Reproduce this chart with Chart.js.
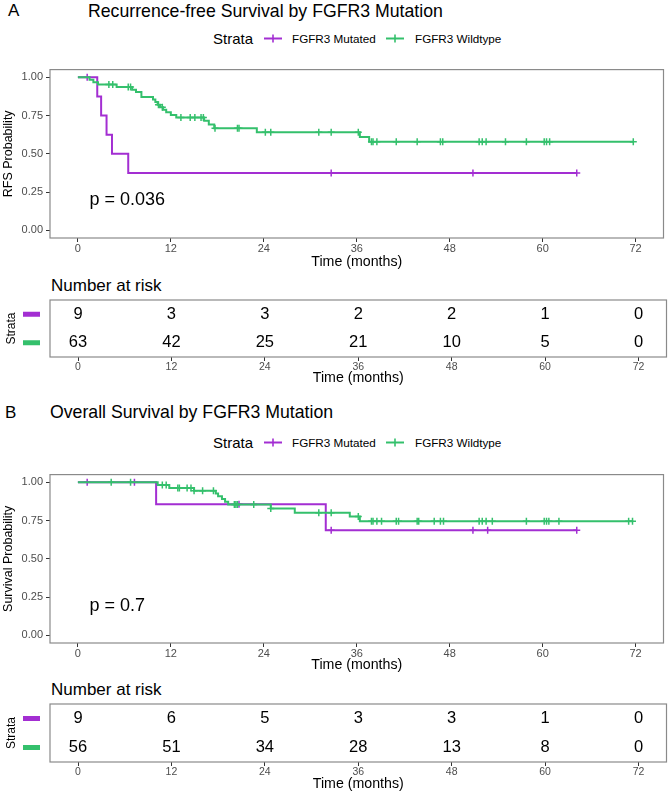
<!DOCTYPE html>
<html>
<head>
<meta charset="utf-8">
<script src="https://cdn.jsdelivr.net/npm/chart.js@4.4.1/dist/chart.umd.min.js"></script>
<style>
  body { margin: 0; background: #fff; width: 669px; height: 793px; position: relative; overflow: hidden;
         font-family: "Liberation Sans", Arial, sans-serif; }
  canvas { position: absolute; left: 0; }
  .t { position: absolute; white-space: nowrap; color: #000; line-height: 1; }
  .key { position: absolute; }
</style>
</head>
<body>
<div class="t" style="left:8px; top:2px; font-size:17px;">A</div>
<div class="t" style="left:88px; top:3px; font-size:17.7px;">Recurrence-free Survival by FGFR3 Mutation</div>
<div class="t" style="left:213px; top:31px; font-size:15px;">Strata</div>
<svg class="key" style="left:263px; top:33px;" width="20" height="11"><line x1="1" y1="5.5" x2="19" y2="5.5" stroke="#A32ED2" stroke-width="2"/><line x1="10" y1="1.5" x2="10" y2="9.5" stroke="#A32ED2" stroke-width="1.6"/></svg>
<div class="t" style="left:292px; top:33px; font-size:11.7px;">FGFR3 Mutated</div>
<svg class="key" style="left:385px; top:33px;" width="20" height="11"><line x1="1" y1="5.5" x2="19" y2="5.5" stroke="#34C06C" stroke-width="2"/><line x1="10" y1="1.5" x2="10" y2="9.5" stroke="#34C06C" stroke-width="1.6"/></svg>
<div class="t" style="left:415px; top:33px; font-size:11.7px;">FGFR3 Wildtype</div>
<canvas id="kmA" width="669" height="215" style="top:60px;"></canvas>
<div class="t" style="left:51px; top:277px; font-size:17px;">Number at risk</div>
<canvas id="riskA" width="669" height="95" style="top:295px;"></canvas>

<div class="t" style="left:5px; top:404px; font-size:17px;">B</div>
<div class="t" style="left:50px; top:404px; font-size:17.7px;">Overall Survival by FGFR3 Mutation</div>
<div class="t" style="left:213px; top:435px; font-size:15px;">Strata</div>
<svg class="key" style="left:263px; top:437px;" width="20" height="11"><line x1="1" y1="5.5" x2="19" y2="5.5" stroke="#A32ED2" stroke-width="2"/><line x1="10" y1="1.5" x2="10" y2="9.5" stroke="#A32ED2" stroke-width="1.6"/></svg>
<div class="t" style="left:292px; top:437px; font-size:11.7px;">FGFR3 Mutated</div>
<svg class="key" style="left:385px; top:437px;" width="20" height="11"><line x1="1" y1="5.5" x2="19" y2="5.5" stroke="#34C06C" stroke-width="2"/><line x1="10" y1="1.5" x2="10" y2="9.5" stroke="#34C06C" stroke-width="1.6"/></svg>
<div class="t" style="left:415px; top:437px; font-size:11.7px;">FGFR3 Wildtype</div>
<canvas id="kmB" width="669" height="215" style="top:465px;"></canvas>
<div class="t" style="left:51px; top:681px; font-size:17px;">Number at risk</div>
<canvas id="riskB" width="669" height="94" style="top:699px;"></canvas>

<script>
// time axis ticks (months) and survival ticks
const tickMonths = [0, 12, 24, 36, 48, 60, 72];
const survTicks = [0, 0.25, 0.5, 0.75, 1];

// A: recurrence-free survival
const rfsMutTime = [0, 2.5, 3.0, 3.7, 4.4, 6.5, 64.4];
const rfsMutSurv = [1, 0.875, 0.75, 0.625, 0.5, 0.375, 0.375];
const rfsMutCens = [1.2, 32.7, 51.0, 64.4];
const rfsWildTime = [0, 1.5, 2.0, 2.6, 5.0, 7.0, 7.5, 8.2, 9.7, 10.0, 10.3, 10.6, 11.0, 11.4, 12.0, 12.7,
                     16.3, 16.9, 17.6, 23.1, 36.4, 37.6, 71.7];
const rfsWildSurv = [1, 0.984, 0.968, 0.952, 0.936, 0.919, 0.903, 0.871, 0.855, 0.838, 0.821, 0.804, 0.787,
                     0.771, 0.754, 0.737, 0.716, 0.692, 0.667, 0.641, 0.610, 0.578, 0.578];
const rfsWildCens = [4.0, 4.5, 6.5, 6.8, 10.4, 10.9, 13.3, 14.5, 15.1, 15.9, 16.2, 17.7, 20.6, 20.8, 24.2, 24.9,
                     31.1, 32.7, 36.2, 37.9, 38.1, 38.6, 41.1, 43.8, 46.8, 47.1, 51.8, 52.2, 52.7, 55.2, 57.9,
                     60.2, 60.5, 60.9, 71.7];
const rfsRiskMut = [9, 3, 3, 2, 2, 1, 0];
const rfsRiskWild = [63, 42, 25, 21, 10, 5, 0];
const rfsPval = 'p = 0.036';

// B: overall survival
const osMutTime = [0, 10.1, 32.0, 64.4];
const osMutSurv = [1, 0.857, 0.686, 0.686];
const osMutCens = [1.2, 7.3, 20.8, 32.7, 51.0, 52.9, 64.4];
const osWildTime = [0, 10.3, 11.8, 15.0, 17.8, 18.1, 18.6, 19.0, 19.4, 24.9, 28.0, 35.1, 36.4, 71.7];
const osWildSurv = [1, 0.982, 0.963, 0.945, 0.927, 0.909, 0.891, 0.873, 0.855, 0.828, 0.800, 0.776, 0.745, 0.745];
const osWildCens = [4.3, 6.8, 10.9, 11.4, 12.9, 13.1, 14.1, 14.6, 15.0, 16.1, 17.5, 20.2, 20.4, 20.6, 22.7, 24.9,
                    31.1, 32.7, 36.2, 37.9, 38.1, 38.6, 39.2, 41.1, 41.4, 43.8, 44.0, 46.0, 46.8, 47.2, 51.8,
                    52.2, 52.7, 53.5, 57.9, 60.2, 60.5, 60.8, 62.1, 71.1, 71.6];
const osRiskMut = [9, 6, 5, 3, 3, 1, 0];
const osRiskWild = [56, 51, 34, 28, 13, 8, 0];
const osPval = 'p = 0.7';

const purple = '#A32ED2';
const green = '#34C06C';
const tickGrey = '#4D4D4D';
const font = 'Liberation Sans';

function stepPoints(times, surv) {
    return times.map((t, i) => ({ x: t, y: surv[i] }));
}
function levelAt(times, surv, t) {
    let s = surv[0];
    for (let i = 0; i < times.length; i++) if (times[i] <= t) s = surv[i];
    return s;
}
function censorPoints(cens, times, surv) {
    return cens.map(t => ({ x: t, y: levelAt(times, surv, t) }));
}

// box around the panel
const framePlugin = {
    id: 'frame',
    afterDraw(chart) {
        const a = chart.chartArea, ctx = chart.ctx;
        ctx.save();
        ctx.strokeStyle = '#8a8a8a';
        ctx.lineWidth = 1.2;
        ctx.strokeRect(a.left, a.top, a.right - a.left, a.bottom - a.top);
        ctx.restore();
    }
};

// p-value annotation
const pvalPlugin = {
    id: 'pval',
    afterDatasetsDraw(chart, args, opts) {
        if (!opts.text) return;
        const ctx = chart.ctx;
        ctx.save();
        ctx.font = '18px "' + font + '"';
        ctx.fillStyle = '#000';
        ctx.textAlign = 'left';
        ctx.textBaseline = 'middle';
        ctx.fillText(opts.text, chart.scales.x.getPixelForValue(opts.x), chart.scales.y.getPixelForValue(opts.y));
        ctx.restore();
    }
};

// numbers at risk, drawn at each dataset point
const riskPlugin = {
    id: 'riskText',
    afterDatasetsDraw(chart) {
        const ctx = chart.ctx;
        ctx.save();
        ctx.font = '16.5px "' + font + '"';
        ctx.fillStyle = '#000';
        ctx.textAlign = 'center';
        ctx.textBaseline = 'middle';
        chart.data.datasets.forEach((ds, i) => {
            chart.getDatasetMeta(i).data.forEach((pt, j) => {
                ctx.fillText(String(ds.riskLabels[j]), pt.x, pt.y);
            });
        });
        ctx.restore();
    }
};

// coloured strata keys in the table's y axis
const strataKeyPlugin = {
    id: 'strataKeys',
    afterDraw(chart) {
        const ctx = chart.ctx, y = chart.scales.y;
        ctx.save();
        chart.data.datasets.forEach(ds => {
            ctx.fillStyle = ds.keyColor;
            ctx.fillRect(23, y.getPixelForValue(ds.data[0].y) - 2.5, 17, 5);
        });
        ctx.restore();
    }
};

function timeScale(axisHeight, tickSize, titlePad) {
    return {
        type: 'linear', min: -3.6, max: 75.6,
        afterBuildTicks: s => { s.ticks = tickMonths.map(v => ({ value: v })); },
        afterFit: s => { s.height = axisHeight; },
        ticks: { autoSkip: false, maxRotation: 0, color: tickGrey, padding: 0,
                 font: { family: font, size: tickSize } },
        grid: { drawOnChartArea: false, drawTicks: true, tickLength: 4, color: '#333' },
        border: { display: false },
        title: { display: true, text: 'Time (months)', color: '#000',
                 font: { family: font, size: 14.2 }, padding: { top: 0, bottom: titlePad } }
    };
}

function kmChart(id, d) {
    return new Chart(document.getElementById(id), {
        type: 'line',
        data: {
            datasets: [
                { data: stepPoints(d.wildT, d.wildS), stepped: true, borderColor: green, borderWidth: 2,
                  pointRadius: 0, fill: false },
                { data: censorPoints(d.wildC, d.wildT, d.wildS), showLine: false, pointStyle: 'cross',
                  pointRadius: 3.5, borderColor: green, borderWidth: 1.5 },
                { data: stepPoints(d.mutT, d.mutS), stepped: true, borderColor: purple, borderWidth: 2,
                  pointRadius: 0, fill: false },
                { data: censorPoints(d.mutC, d.mutT, d.mutS), showLine: false, pointStyle: 'cross',
                  pointRadius: 3.5, borderColor: purple, borderWidth: 1.5 }
            ]
        },
        options: {
            responsive: false,
            animation: false,
            layout: { padding: { top: 5, right: 2.5, left: 0, bottom: 0 } },
            plugins: {
                legend: { display: false },
                tooltip: { enabled: false },
                pval: { text: d.pval, x: 1.5, y: d.pvalY }
            },
            scales: {
                x: timeScale(37, 11, d.xTitlePad),
                y: {
                    min: -0.05, max: 1.05,
                    afterBuildTicks: s => { s.ticks = survTicks.map(v => ({ value: v })); },
                    afterFit: s => { s.width = 50; },
                    ticks: { color: tickGrey, padding: 3, font: { family: font, size: 11 },
                             callback: v => v.toFixed(2) },
                    grid: { drawOnChartArea: false, drawTicks: true, tickLength: 4, color: '#333' },
                    border: { display: false },
                    title: { display: true, text: d.yTitle, color: '#000',
                             font: { family: font, size: 12.5 }, padding: { top: 1.5, bottom: 0 } }
                }
            }
        },
        plugins: [framePlugin, pvalPlugin]
    });
}

function riskChart(id, mut, wild, axisHeight, titlePad) {
    return new Chart(document.getElementById(id), {
        type: 'scatter',
        data: {
            datasets: [
                { data: tickMonths.map(t => ({ x: t, y: 2 })), riskLabels: mut, keyColor: purple, pointRadius: 0 },
                { data: tickMonths.map(t => ({ x: t, y: 1 })), riskLabels: wild, keyColor: green, pointRadius: 0 }
            ]
        },
        options: {
            responsive: false,
            animation: false,
            layout: { padding: { top: 5, right: 2.5, left: 0, bottom: 0 } },
            plugins: { legend: { display: false }, tooltip: { enabled: false } },
            scales: {
                x: timeScale(axisHeight, 10.5, titlePad),
                y: {
                    min: 0.5, max: 2.5,
                    afterFit: s => { s.width = 50; },
                    ticks: { display: false },
                    grid: { display: false },
                    border: { display: false },
                    title: { display: true, text: 'Strata', color: '#000',
                             font: { family: font, size: 12 }, padding: { top: 4, bottom: 0 } }
                }
            }
        },
        plugins: [framePlugin, riskPlugin, strataKeyPlugin]
    });
}

kmChart('kmA', {
    mutT: rfsMutTime, mutS: rfsMutSurv, mutC: rfsMutCens,
    wildT: rfsWildTime, wildS: rfsWildSurv, wildC: rfsWildCens,
    pval: rfsPval, pvalY: 0.2, yTitle: 'RFS Probability', xTitlePad: 4
});
riskChart('riskA', rfsRiskMut, rfsRiskWild, 33, 3);

kmChart('kmB', {
    mutT: osMutTime, mutS: osMutSurv, mutC: osMutCens,
    wildT: osWildTime, wildS: osWildSurv, wildC: osWildCens,
    pval: osPval, pvalY: 0.19, yTitle: 'Survival Probability', xTitlePad: 6
});
riskChart('riskB', osRiskMut, osRiskWild, 31, 0);
</script>
</body>
</html>
